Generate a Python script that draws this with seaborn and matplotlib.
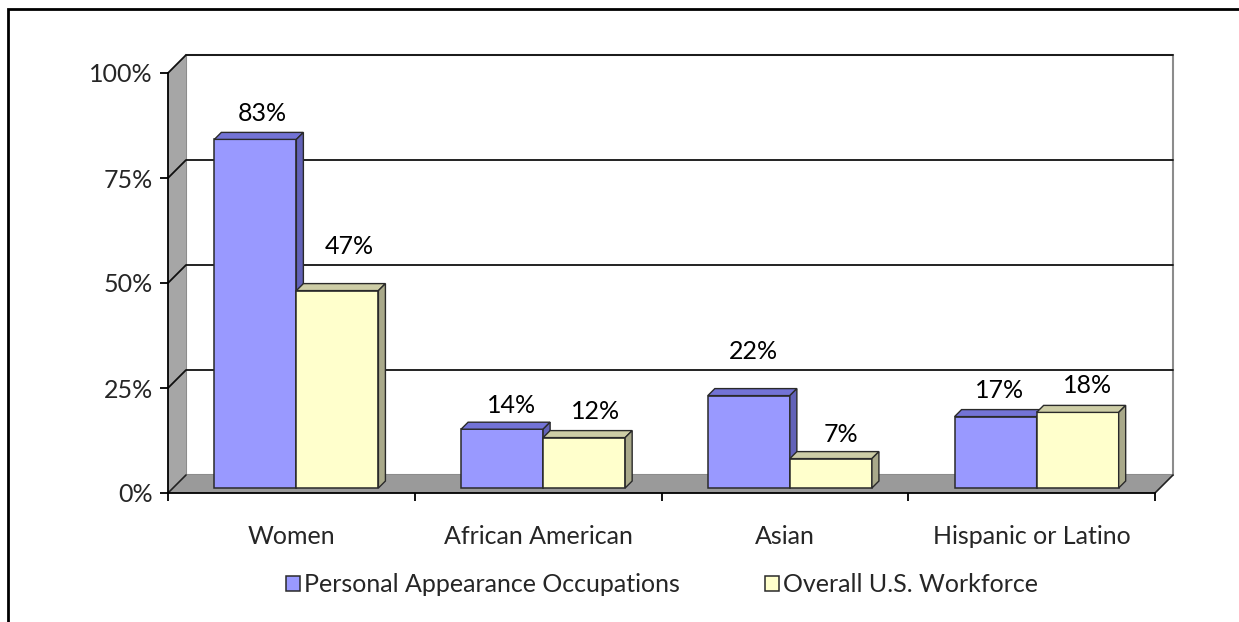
import matplotlib
matplotlib.use("Agg")
import matplotlib.pyplot as plt
from matplotlib.patches import Polygon, Rectangle, Patch
from matplotlib.lines import Line2D
from matplotlib.transforms import ScaledTranslation
import pandas as pd
import seaborn as sns

# ---------------- data ----------------
categories = ["Women", "African American", "Asian", "Hispanic or Latino"]
series_names = ["Personal Appearance Occupations", "Overall U.S. Workforce"]
personal_appearance = [0.83, 0.14, 0.22, 0.17]
overall_workforce = [0.47, 0.12, 0.07, 0.18]
y_ticks = [0.0, 0.25, 0.50, 0.75, 1.0]
y_tick_labels = ["0%", "25%", "50%", "75%", "100%"]

# ---------------- style ----------------
W, H = 1239, 622
BLUE, BLUE_TOP, BLUE_SIDE = "#9999FF", "#7373D6", "#6262B8"
YEL, YEL_TOP, YEL_SIDE = "#FFFFCC", "#CDCDA6", "#A9A98A"
EDGE = "#2A2A2A"
WALL, FLOOR = "#A6A6A6", "#9A9A9A"
FS = 18
WALL_DEPTH = 18      # px
BAR_SHIFT = 5        # px
BAR_DEPTH = 7        # px
# label offsets (px) from top-front centre of each bar, per series
label_offsets = [
    [(7, 26), (9.5, 24), (5, 44), (4, 26)],
    [(11.5, 44), (11, 26), (10.5, 24), (10, 27)],
]

sns.set_style("white")
plt.rcParams["font.family"] = ["Lato", "DejaVu Sans"]

df = pd.DataFrame({
    "category": categories * 2,
    "series": [series_names[0]] * len(categories) + [series_names[1]] * len(categories),
    "value": personal_appearance + overall_workforce,
})

fig = plt.figure(figsize=(W / 100, H / 100), dpi=100)
ax = fig.add_axes([168 / W, (H - 493) / H, (1155 - 168) / W, (493 - 73) / H])

sns.barplot(data=df, x="category", y="value", hue="series",
            palette=[BLUE, YEL], saturation=1, width=0.665,
            edgecolor=EDGE, linewidth=1.1, legend=False, ax=ax)

ax.set_xlim(-0.5, len(categories) - 0.5)
ax.set_ylim(0, 1)
pos = ax.get_position()
dxu = (len(categories)) / (pos.width * W)
dyu = 1.0 / (pos.height * H)


def back(x, y, d=WALL_DEPTH):
    return (x + d * dxu, y + d * dyu)


x0, x1 = -0.5, len(categories) - 0.5
# back wall
bw = back(x0, 0)
ax.add_patch(Rectangle(bw, x1 - x0, 1, fc="white", ec="#8C8C8C", lw=1.5,
                       zorder=0.5, clip_on=False))
# left wall
ax.add_patch(Polygon([(x0, 0), (x0, 1), back(x0, 1), back(x0, 0)],
                     closed=True, fc=WALL, ec="none", zorder=0.8, clip_on=False))
# floor
ax.add_patch(Polygon([(x0, 0), (x1, 0), back(x1, 0), back(x0, 0)],
                     closed=True, fc=FLOOR, ec="none", zorder=0.8, clip_on=False))
# gridlines on wall
for yv in y_ticks[1:]:
    bx0, by = back(x0, yv)
    bx1, _ = back(x1, yv)
    ax.add_line(Line2D([x0, bx0, bx1], [yv, by, by], color="#111111", lw=1.3,
                       zorder=0.9, clip_on=False))
for xv in (x0, x1):
    bx, by = back(xv, 0)
    ax.add_line(Line2D([xv, bx], [0, by], color="#222222", lw=1.2,
                       zorder=0.9, clip_on=False))

# bars: shift and add 3D faces
shift = ScaledTranslation(BAR_SHIFT / 100, BAR_SHIFT / 100, fig.dpi_scale_trans)
bar_trans = ax.transData + shift
faces = [(BLUE_TOP, BLUE_SIDE), (YEL_TOP, YEL_SIDE)]
for si, cont in enumerate(ax.containers):
    zb = 3 + si
    top_c, side_c = faces[si]
    for ci, p in enumerate(cont.patches):
        p.set_transform(bar_trans)
        p.set_zorder(zb)
        bx, bwid, h = p.get_x(), p.get_width(), p.get_height()
        xr = bx + bwid
        ax.add_patch(Polygon([(bx, h), (xr, h), back(xr, h, BAR_DEPTH), back(bx, h, BAR_DEPTH)],
                             closed=True, fc=top_c, ec=EDGE, lw=1.0, transform=bar_trans,
                             zorder=zb + 0.1, clip_on=False))
        ax.add_patch(Polygon([(xr, 0), (xr, h), back(xr, h, BAR_DEPTH), back(xr, 0, BAR_DEPTH)],
                             closed=True, fc=side_c, ec=EDGE, lw=1.0, transform=bar_trans,
                             zorder=zb + 0.1, clip_on=False))
        dx, dy = label_offsets[si][ci]
        ax.annotate(f"{h * 100:.0f}%", xy=(bx + bwid / 2, h), xycoords=bar_trans,
                    xytext=(dx, dy), textcoords="offset pixels",
                    ha="center", va="center", fontsize=FS, color="black", zorder=10)

# axes styling
for s in ("top", "right"):
    ax.spines[s].set_visible(False)
for s in ("left", "bottom"):
    ax.spines[s].set_color("black")
    ax.spines[s].set_linewidth(1.3)
    ax.spines[s].set_zorder(2)

ax.set_yticks(y_ticks, y_tick_labels)
ax.tick_params(axis="y", direction="out", length=6, width=1.3, color="black",
               pad=5, labelsize=FS, left=True)
ax.set_xticks(range(len(categories)), categories)
ax.set_xticks([x0 + i for i in range(len(categories) + 1)], minor=True)
ax.tick_params(axis="x", which="major", length=0, pad=23, labelsize=FS)
ax.tick_params(axis="x", which="minor", direction="out", length=6, width=1.3,
               color="black", bottom=True)
ax.set_xlabel("")
ax.set_ylabel("")
ax.set_facecolor("none")

# legend
handles = [Patch(fc=BLUE, ec=EDGE, lw=1.1), Patch(fc=YEL, ec=EDGE, lw=1.1)]
fig.legend(handles, series_names, loc="center", bbox_to_anchor=(662 / W, 1 - 585 / H),
           ncol=2, frameon=False, fontsize=FS, handlelength=0.56, handleheight=0.56,
           handletextpad=0.15, columnspacing=3.4)

# outer frame (only left and top edges visible)
fig.add_artist(Rectangle((8 / W, -0.5), 2, 1.5 - 9 / H, transform=fig.transFigure,
                         fill=False, ec="black", lw=2))

fig.savefig("out.png", dpi=100)
